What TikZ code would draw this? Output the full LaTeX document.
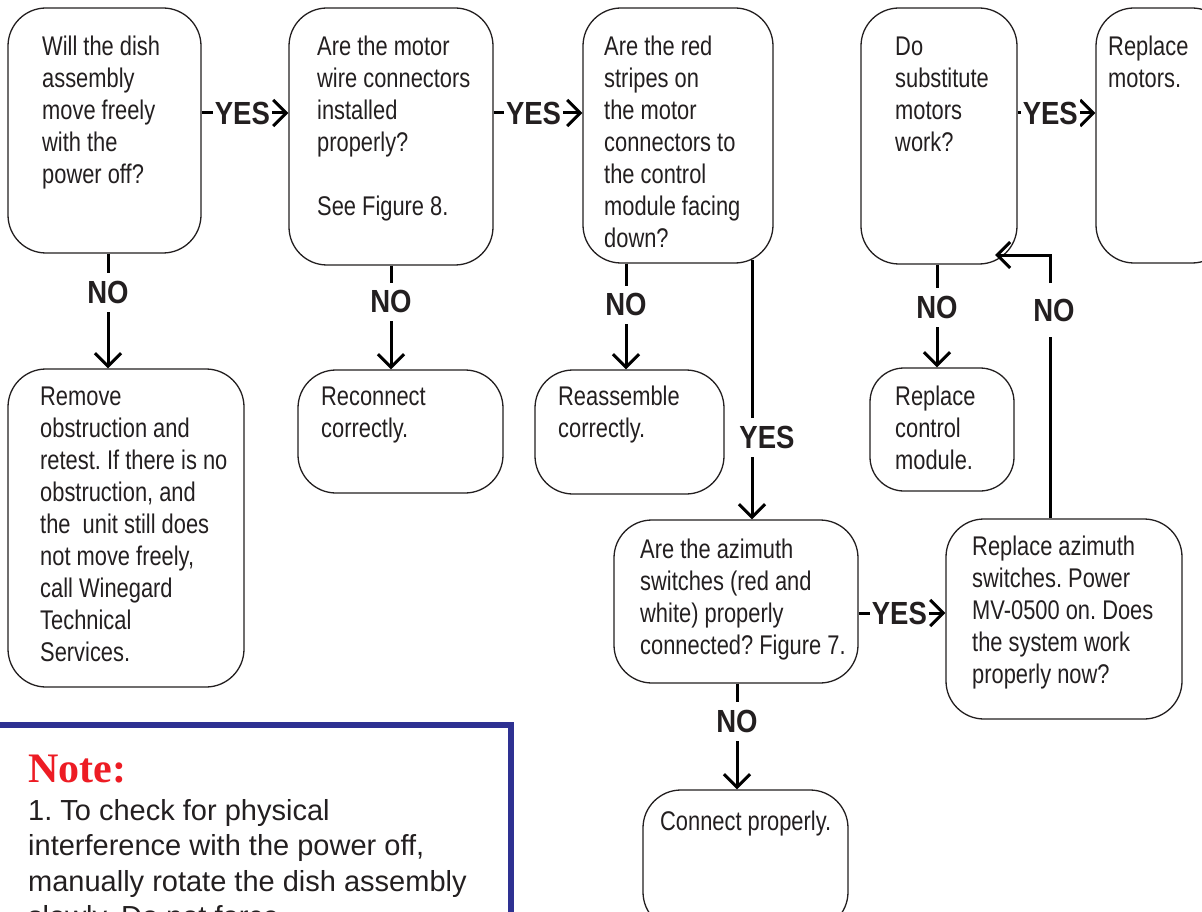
\documentclass[tikz,border=0pt]{standalone}
\usepackage{fontspec}
\setmainfont{Liberation Sans}[FakeStretch=0.81]
\newfontfamily\lblfont{Liberation Sans}[FakeStretch=0.86]
\newfontfamily\notefont{Liberation Sans}
\newfontfamily\noteheadfont{Liberation Serif}
\usetikzlibrary{arrows.meta}
\definecolor{ink}{HTML}{231F20}
\definecolor{noteblue}{HTML}{2E3192}
\definecolor{notered}{HTML}{ED1C24}
\frenchspacing
\tikzset{
  box/.style={draw=ink, line width=1.3pt, rounded corners=38pt, inner sep=0pt, fill=white},
  txt/.style={anchor=north west, inner sep=0pt, align=left, text=ink, font=\fontsize{27}{32}\selectfont},
  lbl/.style={font=\lblfont\bfseries\fontsize{32}{32}\selectfont, text=ink, fill=white, inner xsep=2pt, inner ysep=8pt},
  conn/.style={line width=3pt, draw=black},
  arr/.style={-{Straight Barb[length=13pt,width=26pt]}}
}
\begin{document}
\begin{tikzpicture}[x=1pt,y=-1pt]
\useasboundingbox (0,0) rectangle (1202,912);
\clip (0,0) rectangle (1202,912);
\fill[white] (0,0) rectangle (1202,912);
% boxes
\node[box, minimum width=193pt, minimum height=245pt] (b1) at (104.5,130.5) {};
\node[box, minimum width=204pt, minimum height=257pt] (b2) at (391,136.5) {};
\node[box, minimum width=190pt, minimum height=255pt] (b3) at (678,135.5) {};
\node[box, minimum width=156pt, minimum height=256pt] (b4) at (939,136) {};
\node[box, minimum width=134pt, minimum height=255pt] (b5) at (1163,135.5) {};
\node[box, minimum width=236pt, minimum height=318pt] (b6) at (126,528) {};
\node[box, minimum width=205pt, minimum height=123pt] (b7) at (400.5,431.5) {};
\node[box, minimum width=189pt, minimum height=124pt] (b8) at (629.5,432) {};
\node[box, minimum width=144pt, minimum height=123pt, rounded corners=34pt] (b11) at (942,429.5) {};
\node[box, minimum width=244pt, minimum height=163pt] (b9) at (736,601.5) {};
\node[box, minimum width=236pt, minimum height=200pt] (b10) at (1064,619) {};
\node[box, minimum width=205pt, minimum height=140pt] (b12) at (745.5,860) {};
% texts
\node[txt] (t1) at (42,32.6) {\strut Will the dish\\assembly\\move freely\\with the\\power off?};
\node[txt] (t2) at (317,32.6) {\strut Are the motor\\wire connectors\\installed\\properly?\\[32pt]See Figure 8.};
\node[txt] (t3) at (604,32.6) {\strut Are the red\\stripes on\\the motor\\connectors to\\the control\\module facing\\down?};
\node[txt] (t4) at (895,32.6) {\strut Do\\substitute\\motors\\work?};
\node[txt] (t5) at (1108,32.6) {\strut Replace\\motors.};
\node[txt] (t6) at (40,382.6) {\strut Remove\\obstruction and\\retest. If there is no\\obstruction, and\\the\ \ unit still does\\not move freely,\\call Winegard\\Technical\\Services.};
\node[txt] (t7) at (321,382.6) {\strut Reconnect\\correctly.};
\node[txt] (t8) at (558,382.6) {\strut Reassemble\\correctly.};
\node[txt] (t11) at (895,382.6) {\strut Replace\\control\\module.};
\node[txt] (t9) at (640,535.6) {\strut Are the azimuth\\switches (red and\\white) properly\\connected? Figure 7.};
\node[txt] (t10) at (972,532.6) {\strut Replace azimuth\\switches. Power\\MV-0500 on. Does\\the system work\\properly now?};
\node[txt] (t12) at (660,807.6) {\strut Connect properly.};
% helper coordinates
\coordinate (r1) at (0,113);
\coordinate (r2) at (0,613);
\coordinate (c1) at (108,0);
\coordinate (c2) at (391,0);
\coordinate (c3) at (626,0);
\coordinate (c3y) at (752,0);
\coordinate (c4) at (937,0);
\coordinate (c9) at (737,0);
\coordinate (c10) at (1050,0);
\coordinate (k1) at (1050,337);
\coordinate (k2) at (1050,283);
\coordinate (b4hit) at (995,255);
% horizontal YES connectors
\draw[conn,arr] (b1.east |- r1) -- node[lbl,pos=0.47]{YES} (b2.west |- r1);
\draw[conn,arr] (b2.east |- r1) -- node[lbl,pos=0.45]{YES} (b3.west |- r1);
\draw[conn,arr] (b4.east |- r1) -- node[lbl,pos=0.42]{YES} (b5.west |- r1);
\draw[conn,arr] (b9.east |- r2) -- node[lbl,pos=0.47]{YES} (b10.west |- r2);
% vertical NO connectors
\draw[conn,arr] (b1.south -| c1) -- node[lbl,pos=0.34]{NO} (b6.north -| c1);
\draw[conn,arr] (b2.south -| c2) -- node[lbl,pos=0.35]{NO} (b7.north -| c2);
\draw[conn,arr] (b3.south -| c3) -- node[lbl,pos=0.39]{NO} (b8.north -| c3);
\draw[conn,arr] (b4.south -| c4) -- node[lbl,pos=0.42]{NO} (b11.north -| c4);
\draw[conn,arr] (b9.south -| c9) -- node[lbl,pos=0.36]{NO} (b12.north -| c9);
% YES down from b3 to b9
\draw[conn,arr,shorten <=-4pt] (b3.south -| c3y) -- node[lbl,pos=0.68,xshift=15pt]{YES} (b9.north -| c3y);
% NO loop from b10 back to b4
\draw[conn] (b10.north -| c10) -- (k1);
\node[lbl,fill=none] (n10) at (1054,310) {NO};
\draw[conn,arr] (k2) |- (b4hit);
% note box
\draw[draw=noteblue, line width=5.5pt, fill=white] (-20,725) rectangle (511,1000);
\node[anchor=base west, inner sep=0pt, text=notered, font=\noteheadfont\bfseries\fontsize{42}{42}\selectfont] (nh) at (28,782) {Note:};
\node[anchor=north west, inner sep=0pt, align=left, text=ink, font=\notefont\fontsize{29}{35.5}\selectfont] (nt) at (28,795.2) {\strut 1. To check for physical\\interference with the power off,\\manually rotate the dish assembly\\slowly. Do not force};
\end{tikzpicture}
\end{document}
